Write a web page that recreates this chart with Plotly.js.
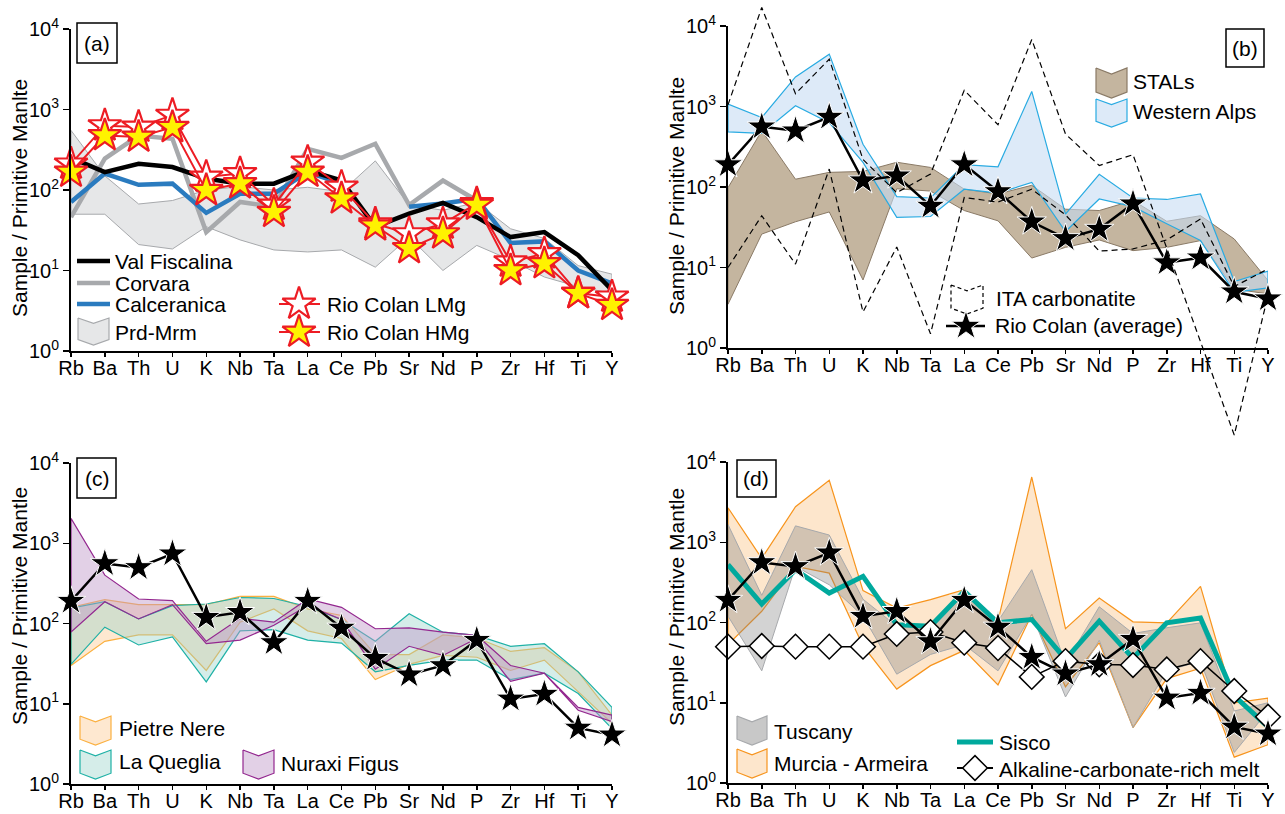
<!DOCTYPE html>
<html>
<head>
<meta charset="utf-8">
<script src="https://cdn.plot.ly/plotly-3.0.1.min.js"></script>
<style>html,body{margin:0;padding:0;background:#fff}</style>
</head>
<body>
<div id="chart" style="width:1285px;height:814px"></div>
<script>
// Trace-element order on the spider diagrams
const elements = ['Rb','Ba','Th','U','K','Nb','Ta','La','Ce','Pb','Sr','Nd','P','Zr','Hf','Ti','Y'];
const decadeTicks = [1, 10, 100, 1000, 10000];
const decadeLabels = ['10<sup>0</sup>','10<sup>1</sup>','10<sup>2</sup>','10<sup>3</sup>','10<sup>4</sup>'];

// (a) Dolomites lamprophyres and Rio Colan samples
const valFiscalina = [251,167,212,193,139,120,120,175,131,35,51,69,46,26,30,15.5,5.7];
const corvara      = [46,245,475,433,30,71,62,325,251,375,65,131,74,null,null,null,null];
const calceranica  = [71,160,116,120,52,90,90,167,120,null,62,68,78,22,23,10,6.9];
const prdMrmHigh   = [550,150,67,74,100,110,100,108,95,230,65,56,70,33,25,11.5,9];
const prdMrmLow    = [50,50,21,18.5,35,24,18,17,18,11,26,10,20.5,13.5,8.3,6.3,5.2];
const rioColanLMg  = [211,630,605,850,145,160,65,222,109,38,28.7,38,68,12.8,16.2,5.2,4.7];
const rioColanHMg  = [167,475,455,600,99,120,53,167,78,36,18.8,28.7,65,10,12.2,5.2,3.7];

// Rio Colan average, repeated in (b), (c) and (d)
const rioColanAvg  = [190,560,500,740,120,138,58,190,88,37,23,30,62,11.5,13.2,5,4.1];

// (b) STALs, Western Alps and ITA carbonatite envelopes
const stalsHigh       = [98,500,125,152,156,203,175,94,82,105,53,51,68,37.5,44,22.6,6.9];
const stalsLow        = [3.5,26,37,49,7,95,89,51,38,13.1,17.8,22,16.2,17.8,21.6,5.4,4.7];
const westernAlpsHigh = [1070,730,2330,4470,340,76,73,190,178,1540,46,144,73,70,82,6.7,9];
const westernAlpsLow  = [485,463,1020,630,202,42,43,94,84,114,28,71,57,35,21.6,4.9,5.6];
const itaHigh         = [1050,17000,1440,3870,220,85,145,1590,594,6800,455,185,252,17,1.2,0.083,4.5];
const itaLow          = [10,44,11,167,2.8,18,1.5,74,65,94,45,16,17,22,40,5.8,9.6];

// (c) Pietre Nere, La Queglia, Nuraxi Figus envelopes
const pietreNereHigh  = [159,198,172,172,172,218,218,152,126,41,41,72,66,45,50,25,7.2];
const pietreNereLow   = [30,60,72,72,26,104,152,81,65,20,31,40,38,26,35,14,5.7];
const laQuegliaHigh   = [155,187,114,167,175,211,205,163,112,60,132,78,71,52,56,25,9];
const laQuegliaLow    = [31,90,54,68,18.7,81,84,62,57,25,30,35,35,20,24,13.4,4.9];
const nuraxiFigusHigh = [2040,400,202,193,60,116,104,202,159,86,88,78,71,30,24,9,7.2];
const nuraxiFigusLow  = [78,187,114,172,56,62,95,167,112,27,52,40,65,19,24,8.3,6];

// (d) Tuscany, Murcia - Armeira, Sisco and alkaline-carbonate-rich melt
const murciaHigh   = [2690,630,2770,5930,250,151,193,256,104,6500,84,202,102,99,282,10,11.4];
const murciaLow    = [53,138,500,412,51,14.8,29,45,16.7,126,15.8,56,4.9,20,27,2.1,3.0];
const tuscanyHigh  = [1660,218,1600,1230,195,90,82,226,104,455,31,157,73,86,99,7.9,10];
const tuscanyLow   = [120,25,500,295,120,22.7,40,53,25,126,11.8,60,4.9,25,33,2.4,7.9];
const sisco        = [525,170,455,233,376,94,90,245,99,109,35,104,36,99,114,12.2,5.0];
const alkalineMelt = [50,51,50,50,50,72,76,56,48,21,33,30,29.5,26,33,14,6.7];

// ---- page geometry (pixels) ----
const W = 1285, H = 814;
const FONT = 'Liberation Sans, Arial, Helvetica, sans-serif';
const FS = 21;
const box = {
  a: {x0: 71,  x1: 612,  top: 29,  bot: 351},
  b: {x0: 728, x1: 1268, top: 26,  bot: 348},
  c: {x0: 71,  x1: 612,  top: 463, bot: 784},
  d: {x0: 728, x1: 1268, top: 462, bot: 783}
};
const fx = px => px / W;
const fy = py => 1 - py / H;

function xAxisFor(p, anchor) {
  return {
    domain: [fx(p.x0), fx(p.x1)], anchor: anchor, type: 'category',
    categoryorder: 'array', categoryarray: elements,
    range: [0, 16], tickmode: 'array', tickvals: elements, ticktext: elements,
    ticks: 'outside', ticklen: 4, tickwidth: 1.5, tickcolor: '#000',
    ticklabelstandoff: -6,
    showline: true, linecolor: '#000', linewidth: 2,
    showgrid: false, zeroline: false, fixedrange: true,
    tickfont: {family: FONT, size: 20, color: '#000'}
  };
}
function yAxisFor(p, anchor) {
  return {
    domain: [fy(p.bot), fy(p.top)], anchor: anchor, type: 'log', range: [0, 4],
    tickmode: 'array', tickvals: decadeTicks, ticktext: decadeLabels,
    ticks: 'outside', ticklen: 6, tickwidth: 1.5, tickcolor: '#000',
    showline: true, linecolor: '#000', linewidth: 2,
    showgrid: false, zeroline: false, fixedrange: true,
    tickfont: {family: FONT, size: 20, color: '#000'}
  };
}

function band(xa, ya, hi, lo, fill, edge, w, dash) {
  const xs = elements.concat(elements.slice().reverse(), [elements[0]]);
  const ys = hi.concat(lo.slice().reverse(), [hi[0]]);
  return {type: 'scatter', mode: 'lines', xaxis: xa, yaxis: ya, x: xs, y: ys,
          fill: 'toself', fillcolor: fill, line: {color: edge, width: w, dash: dash || 'solid'},
          hoverinfo: 'skip', showlegend: false};
}
function line(xa, ya, vals, color, w, dash) {
  return {type: 'scatter', mode: 'lines', xaxis: xa, yaxis: ya, x: elements, y: vals,
          line: {color: color, width: w, dash: dash || 'solid'}, connectgaps: false,
          hoverinfo: 'skip', showlegend: false};
}
const starBlack = {symbol: 'star', size: 22, color: '#000', line: {color: '#fff', width: 1}};
const starLMg = {symbol: 'star', size: 25, color: '#fff', line: {color: '#ed1c24', width: 2.2}};
const starHMg = {symbol: 'star', size: 25, color: '#fff200', line: {color: '#ed1c24', width: 2.2}};
const diamondWhite = {symbol: 'diamond', size: 19, color: '#fff', line: {color: '#000', width: 1.5}};

function markedLine(xa, ya, vals, lineColor, lw, marker) {
  return {type: 'scatter', mode: 'lines+markers', xaxis: xa, yaxis: ya, x: elements, y: vals,
          line: {color: lineColor, width: lw}, marker: marker, cliponaxis: false,
          hoverinfo: 'skip', showlegend: false};
}

// colours
const C = {
  prdFill: '#e6e7e8', prdEdge: '#a7a9ac',
  corvara: '#a7a9ac', calceranica: '#2a7bbf', val: '#000',
  red: '#ed1c24',
  stalsFill: '#c4b59f', stalsEdge: '#8a7a66',
  alpsFill: 'rgba(198,220,243,0.6)', alpsEdge: '#29abe2',
  pnFill: 'rgba(253,205,150,0.45)', pnEdge: '#fbb040',
  lqFill: 'rgba(150,210,200,0.4)', lqEdge: '#1fb1a6',
  nfFill: 'rgba(190,150,200,0.45)', nfEdge: '#93278f',
  murFill: 'rgba(252,214,170,0.6)', murEdge: '#f7941d',
  tusFill: 'rgba(128,128,128,0.35)', tusEdge: '#a7a9ac',
  sisco: '#00a99d'
};

const traces = [];
// (a)
traces.push(band('x', 'y', prdMrmHigh, prdMrmLow, C.prdFill, C.prdEdge, 1));
traces.push(line('x', 'y', corvara, C.corvara, 4.5));
traces.push(line('x', 'y', calceranica, C.calceranica, 4.5));
traces.push(line('x', 'y', valFiscalina, C.val, 4.5));
traces.push(markedLine('x', 'y', rioColanLMg, C.red, 2, starLMg));
traces.push(markedLine('x', 'y', rioColanHMg, C.red, 2, starHMg));
// (b)
traces.push(band('x2', 'y2', stalsHigh, stalsLow, C.stalsFill, C.stalsEdge, 1));
traces.push(band('x2', 'y2', westernAlpsHigh, westernAlpsLow, C.alpsFill, C.alpsEdge, 1.2));
// (c)
traces.push(band('x3', 'y3', pietreNereHigh, pietreNereLow, C.pnFill, C.pnEdge, 1.2));
traces.push(band('x3', 'y3', laQuegliaHigh, laQuegliaLow, C.lqFill, C.lqEdge, 1.2));
traces.push(band('x3', 'y3', nuraxiFigusHigh, nuraxiFigusLow, C.nfFill, C.nfEdge, 1.2));
traces.push(markedLine('x3', 'y3', rioColanAvg, '#000', 2.5, starBlack));
// (d)
traces.push(band('x4', 'y4', murciaHigh, murciaLow, C.murFill, C.murEdge, 1.2));
traces.push(band('x4', 'y4', tuscanyHigh, tuscanyLow, C.tusFill, C.tusEdge, 1));
traces.push(line('x4', 'y4', sisco, C.sisco, 5));
traces.push(markedLine('x4', 'y4', alkalineMelt, '#000', 1.5, diamondWhite));
traces.push(markedLine('x4', 'y4', rioColanAvg, '#000', 2.5, starBlack));
// (b) ITA carbonatite envelope runs past the frame, so it sits on a taller twin axis
traces.push(line('x5', 'y5', itaHigh, '#000', 1.2, '6px,4px'));
traces.push(line('x5', 'y5', itaLow, '#000', 1.2, '6px,4px'));
traces.push(markedLine('x2', 'y2', rioColanAvg, '#000', 2.5, starBlack));

// ---- legend glyphs, drawn on a pixel-space overlay (x6/y6) ----
function chevron(x0, y0, x1, y1, fill, edge, dash) {
  const xm = (x0 + x1) / 2, d = (y1 - y0) * 0.2;
  return {type: 'scatter', mode: 'lines', xaxis: 'x6', yaxis: 'y6',
          x: [x0, xm, x1, x1, xm, x0, x0], y: [y0, y0 + d, y0, y1 - d, y1, y1 - d, y0],
          fill: fill ? 'toself' : 'none', fillcolor: fill || 'rgba(0,0,0,0)',
          line: {color: edge, width: 1.2, dash: dash || 'solid'}, hoverinfo: 'skip', showlegend: false};
}
function keyLine(x0, x1, y, color, w) {
  return {type: 'scatter', mode: 'lines', xaxis: 'x6', yaxis: 'y6', x: [x0, x1], y: [y, y],
          line: {color: color, width: w}, hoverinfo: 'skip', showlegend: false};
}
function keyMarker(x, y, marker) {
  return {type: 'scatter', mode: 'markers', xaxis: 'x6', yaxis: 'y6', x: [x], y: [y],
          marker: marker, cliponaxis: false, hoverinfo: 'skip', showlegend: false};
}
// (a)
traces.push(keyLine(77, 110, 261, C.val, 4.5));
traces.push(keyLine(77, 110, 283, C.corvara, 4.5));
traces.push(keyLine(77, 110, 304, C.calceranica, 4.5));
traces.push(chevron(78, 318, 109, 345, C.prdFill, C.prdEdge));
traces.push(keyLine(279, 320, 304, C.red, 2));
traces.push(keyMarker(299, 304, starLMg));
traces.push(keyLine(279, 320, 332, C.red, 2));
traces.push(keyMarker(299, 332, starHMg));
// (b)
traces.push(chevron(1096, 68, 1127, 98, C.stalsFill, C.stalsEdge));
traces.push(chevron(1096, 99, 1127, 127, C.alpsFill, C.alpsEdge));
traces.push(chevron(951, 285, 983, 314, null, '#000', '4px,3px'));
traces.push(keyLine(946, 985, 326, '#000', 2.5));
traces.push(keyMarker(966, 326, starBlack));
// (c)
traces.push(chevron(80, 716, 111, 745, C.pnFill, C.pnEdge));
traces.push(chevron(80, 750, 111, 779, C.lqFill, C.lqEdge));
traces.push(chevron(243, 750, 274, 779, C.nfFill, C.nfEdge));
// (d)
traces.push(chevron(737, 716, 767, 745, 'rgba(200,200,200,1)', C.tusEdge));
traces.push(chevron(737, 749, 767, 778, 'rgba(253,230,204,1)', C.murEdge));
traces.push(keyLine(957, 993, 742, C.sisco, 5));
traces.push(keyLine(957, 993, 768, '#000', 2));
traces.push(keyMarker(975, 768, diamondWhite));

// ---- text ----
function txt(x, y, s, anchor) {
  return {xref: 'x6', yref: 'y6', x: x, y: y, text: s, showarrow: false,
          xanchor: anchor || 'left', yanchor: 'middle',
          font: {family: FONT, size: FS, color: '#000'}};
}
function ytitle(x, y, s) {
  return {xref: 'x6', yref: 'y6', x: x, y: y, text: s, showarrow: false, textangle: -90,
          xanchor: 'center', yanchor: 'middle', font: {family: FONT, size: FS, color: '#000'}};
}
const annotations = [
  ytitle(19, 198, 'Sample / Primitive Manlte'),
  ytitle(676, 196, 'Sample / Primitive Manlte'),
  ytitle(19, 606, 'Sample / Primitive Mantle'),
  ytitle(676, 607, 'Sample / Primitive Mantle'),
  txt(97, 43, '(a)', 'center'),
  txt(1245, 48, '(b)', 'center'),
  txt(97, 478, '(c)', 'center'),
  txt(756, 478, '(d)', 'center'),
  txt(113, 261, 'Val Fiscalina'),
  txt(113, 283, 'Corvara'),
  txt(113, 304, 'Calceranica'),
  txt(113, 332, 'Prd-Mrm'),
  txt(325, 304, 'Rio Colan LMg'),
  txt(325, 332, 'Rio Colan HMg'),
  txt(1131, 81, 'STALs'),
  txt(1131, 111, 'Western Alps'),
  txt(994, 298, 'ITA carbonatite'),
  txt(993, 325, 'Rio Colan (average)'),
  txt(117, 728, 'Pietre Nere'),
  txt(117, 761, 'La Queglia'),
  txt(279, 763, 'Nuraxi Figus'),
  txt(772, 731, 'Tuscany'),
  txt(772, 763, 'Murcia - Armeira'),
  txt(997, 742, 'Sisco'),
  txt(997, 769, 'Alkaline-carbonate-rich melt')
];
function labelBox(x0, y0, x1, y1) {
  return {type: 'rect', xref: 'x6', yref: 'y6', x0: x0, y0: y0, x1: x1, y1: y1,
          line: {color: '#000', width: 1.5}, fillcolor: 'rgba(0,0,0,0)'};
}
const shapes = [
  labelBox(77, 23, 117, 63),
  labelBox(1226, 29, 1264, 67),
  labelBox(77, 458, 116, 498),
  labelBox(737, 460, 776, 497)
];

// twin axis for the ITA envelope: same scale as (b), taller extent
const pb = box.b;
const pxPerDecade = (pb.bot - pb.top) / 4;
const twinTop = 0, twinBot = 452;
const twinRange = [-(twinBot - pb.bot) / pxPerDecade, 4 + (pb.top - twinTop) / pxPerDecade];

const layout = {
  width: W, height: H, margin: {l: 0, r: 0, t: 0, b: 0},
  paper_bgcolor: '#fff', plot_bgcolor: 'rgba(0,0,0,0)',
  showlegend: false, font: {family: FONT, size: FS, color: '#000'},
  xaxis: xAxisFor(box.a, 'y'),  yaxis: yAxisFor(box.a, 'x'),
  xaxis2: xAxisFor(box.b, 'y2'), yaxis2: yAxisFor(box.b, 'x2'),
  xaxis3: xAxisFor(box.c, 'y3'), yaxis3: yAxisFor(box.c, 'x3'),
  xaxis4: xAxisFor(box.d, 'y4'), yaxis4: yAxisFor(box.d, 'x4'),
  xaxis5: {domain: [fx(pb.x0), fx(pb.x1)], anchor: 'y5', type: 'category',
           categoryorder: 'array', categoryarray: elements, range: [0, 16], visible: false, fixedrange: true},
  yaxis5: {domain: [fy(twinBot), fy(twinTop)], anchor: 'x5', type: 'log', range: twinRange,
           visible: false, fixedrange: true},
  xaxis6: {domain: [0, 1], anchor: 'y6', range: [0, W], visible: false, fixedrange: true},
  yaxis6: {domain: [0, 1], anchor: 'x6', range: [H, 0], visible: false, fixedrange: true},
  annotations: annotations,
  shapes: shapes
};

Plotly.newPlot('chart', traces, layout, {staticPlot: true, displayModeBar: false});
</script>
</body>
</html>
